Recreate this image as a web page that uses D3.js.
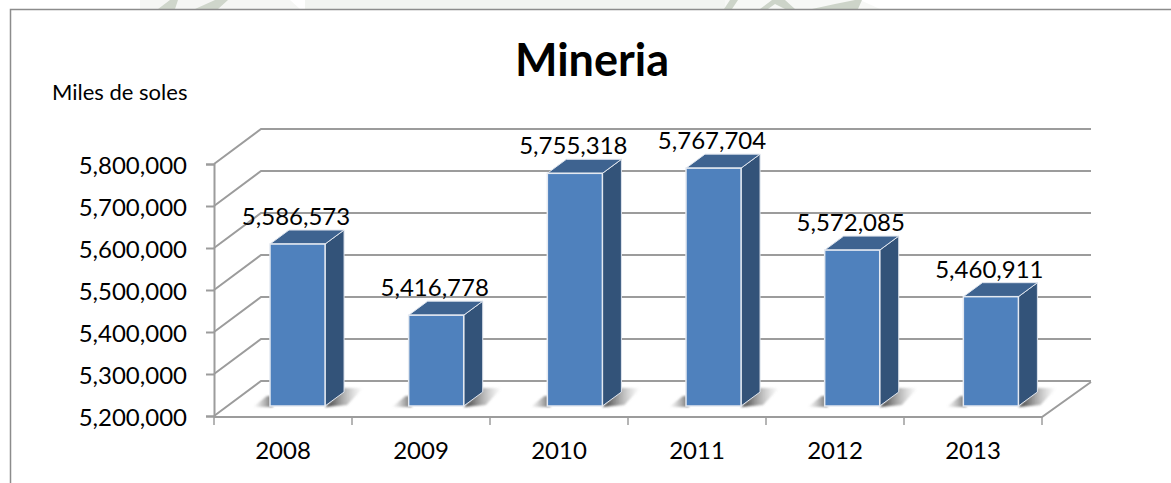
<!DOCTYPE html>
<html>
<head>
<meta charset="utf-8">
<script src="https://cdn.jsdelivr.net/npm/d3@7"></script>
<style>
  html, body { margin: 0; padding: 0; background: #fff; }
  svg { display: block; }
  text { font-family: Lato, "Open Sans", sans-serif; fill: #000; }
</style>
</head>
<body>
<div id="chart"></div>
<script>
var years = ["2008", "2009", "2010", "2011", "2012", "2013"];
var values = [5586573, 5416778, 5755318, 5767704, 5572085, 5460911];
var yTicks = [5200000, 5300000, 5400000, 5500000, 5600000, 5700000, 5800000];

var width = 1171,
    height = 483,
    depth = {x: 47, y: -35},     // back wall offset
    barDepth = {x: 19, y: -14};  // side of the columns

var svg = d3.select("#chart").append("svg")
    .attr("width", width)
    .attr("height", height);

// faint page watermark showing above the chart frame
var wm = svg.append("g");
wm.append("rect").attr("x", 305).attr("y", 0).attr("width", 420).attr("height", 9).attr("fill", "#f2f4f1");
wm.append("path").attr("d", "M140,0H290L300,9H140Z").attr("fill", "#f5f6f4");
wm.append("path").attr("d", "M158,9L170,0H178L175,9ZM195,9L215,0H228L218,9Z").attr("fill", "#cfd6cb");
wm.append("path").attr("d", "M725,0H860L880,9H725Z").attr("fill", "#f7f8f6");
wm.append("path").attr("d", "M724,9L730,0H738L732,9ZM760,9L772,0H785L795,9H785L775,4L768,9ZM812,9L835,4L855,0H862L858,9Z").attr("fill", "#cdd4c9");

// chart frame (only top and left edges are in the picture)
svg.append("path")
    .attr("d", "M10.5," + height + "V9.5H" + width)
    .attr("fill", "none")
    .attr("stroke", "#8c8c8c")
    .attr("stroke-width", 1.5);

var y = d3.scaleLinear()
    .domain([5200000, 5800000])
    .range([416, 164]);

var x = d3.scaleBand()
    .domain(years)
    .range([214, 1042]);

// columns stand in the middle of the floor
var barX = d3.scaleBand()
    .domain(years)
    .range([228.4, 1060])
    .paddingInner(0.603)
    .paddingOuter(0.3);

var barY = d3.scaleLinear()
    .domain([5200000, 5800000])
    .range([406, 154.6]);

var gridColor = "#9c9c9c";

// walls
var grid = svg.append("g").attr("fill", "none").attr("stroke", gridColor).attr("stroke-width", 2);
grid.selectAll("path")
    .data(yTicks)
  .enter().append("path")
    .attr("d", function(d) {
      var y0 = y(d);
      return "M214," + y0 + "L" + (214 + depth.x) + "," + (y0 + depth.y) + "H1091";
    });

// floor edges
grid.append("path")
    .attr("d", "M214,417H1042L1091," + (y(5200000) + depth.y + 1));

// shadows
var defs = svg.append("defs");
var shadowGrad = defs.append("linearGradient").attr("id", "shadowGrad")
    .attr("x1", 0).attr("x2", 1).attr("y1", 0).attr("y2", 0);
shadowGrad.append("stop").attr("offset", "0%").attr("stop-color", "#333").attr("stop-opacity", 1);
shadowGrad.append("stop").attr("offset", "100%").attr("stop-color", "#999").attr("stop-opacity", 0);
var shadowGradL = defs.append("linearGradient").attr("id", "shadowGradL")
    .attr("x1", 1).attr("x2", 0).attr("y1", 0).attr("y2", 0);
shadowGradL.append("stop").attr("offset", "0%").attr("stop-color", "#555").attr("stop-opacity", 0.9);
shadowGradL.append("stop").attr("offset", "100%").attr("stop-color", "#999").attr("stop-opacity", 0);
defs.append("filter").attr("id", "soft")
  .append("feGaussianBlur").attr("stdDeviation", 1);

var bw = barX.bandwidth();
var bars = svg.append("g").selectAll("g")
    .data(values)
  .enter().append("g");

bars.append("path")
    .attr("fill", "url(#shadowGrad)")
    .attr("filter", "url(#soft)")
    .attr("d", function(d, i) {
      var l = barX(years[i]) + bw, b = barY.range()[0];
      return "M" + l + "," + (b + 1) + "L" + (l + barDepth.x) + "," + (b + barDepth.y - 4) +
             "H" + (l + barDepth.x + 19) + "L" + (l + 22) + "," + (b - 1) + "Z";
    });

bars.append("path")
    .attr("fill", "url(#shadowGradL)")
    .attr("filter", "url(#soft)")
    .attr("d", function(d, i) {
      var l = barX(years[i]), b = barY.range()[0];
      return "M" + (l - 17) + "," + (b + 1) + "L" + (l - 3) + "," + (b - 10) + "H" + (l + 3) + "V" + (b + 1) + "Z";
    });

// side
bars.append("path")
    .attr("fill", "#335379")
    .attr("stroke", "#dfe5ee")
    .attr("stroke-width", 1)
    .attr("d", function(d, i) {
      var r = barX(years[i]) + bw, t = barY(d), b = barY.range()[0];
      return "M" + r + "," + t + "L" + (r + barDepth.x) + "," + (t + barDepth.y) +
             "V" + (b + barDepth.y) + "L" + r + "," + b + "Z";
    });

// top
bars.append("path")
    .attr("fill", "#3e6390")
    .attr("stroke", "#dfe5ee")
    .attr("stroke-width", 1)
    .attr("d", function(d, i) {
      var l = barX(years[i]), t = barY(d);
      return "M" + l + "," + t + "L" + (l + barDepth.x) + "," + (t + barDepth.y) +
             "H" + (l + bw + barDepth.x) + "L" + (l + bw) + "," + t + "Z";
    });

// front
bars.append("rect")
    .attr("x", function(d, i) { return barX(years[i]); })
    .attr("y", function(d) { return barY(d); })
    .attr("width", bw)
    .attr("height", function(d) { return barY.range()[0] - barY(d); })
    .attr("fill", "#4f81bd")
    .attr("stroke", "#e4e9f1")
    .attr("stroke-width", 1.5);

// value labels
svg.append("g").selectAll("text")
    .data(values)
  .enter().append("text")
    .attr("x", function(d, i) { return barX(years[i]) + bw / 2 - 1.5; })
    .attr("y", function(d) { return barY(d) - 19; })
    .attr("text-anchor", "middle")
    .attr("font-size", 24)
    .text(d3.format(","));

// axes
var yAxis = d3.axisLeft(y)
    .tickValues(yTicks)
    .tickFormat(d3.format(","))
    .tickSize(8)
    .tickPadding(19);

var yG = svg.append("g")
    .attr("transform", "translate(214,0)")
    .call(yAxis);
yG.select(".domain").attr("stroke", gridColor).attr("stroke-width", 2);
yG.selectAll(".tick line").attr("stroke", gridColor).attr("stroke-width", 2);
yG.selectAll("text").attr("font-size", 24).attr("font-family", null).attr("dy", "0.4em");

var xAxis = d3.axisBottom(x)
    .tickSize(0)
    .tickPadding(25);

var xG = svg.append("g")
    .attr("transform", "translate(0,417)")
    .call(xAxis);
xG.select(".domain").remove();
xG.selectAll("text").attr("font-size", 24).attr("font-family", null);

// x ticks sit between the categories
svg.append("g").selectAll("line")
    .data(years.concat(["end"]))
  .enter().append("line")
    .attr("x1", function(d, i) { return x.range()[0] + i * x.step(); })
    .attr("x2", function(d, i) { return x.range()[0] + i * x.step(); })
    .attr("y1", 417)
    .attr("y2", 425)
    .attr("stroke", gridColor)
    .attr("stroke-width", 1.5);

// titles
svg.append("text")
    .attr("x", 592)
    .attr("y", 76)
    .attr("text-anchor", "middle")
    .attr("font-size", 45)
    .attr("font-weight", 700)
    .text("Mineria");

svg.append("text")
    .attr("x", 52)
    .attr("y", 100)
    .attr("font-size", 22)
    .text("Miles de soles");
</script>
</body>
</html>
